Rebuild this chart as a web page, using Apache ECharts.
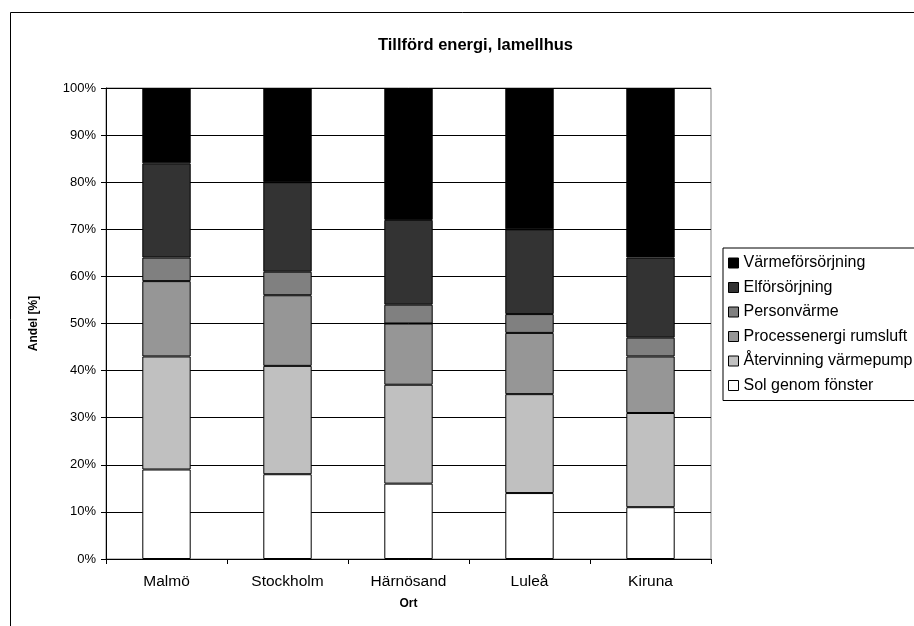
<!DOCTYPE html>
<html>
<head>
<meta charset="utf-8">
<script src="https://cdn.jsdelivr.net/npm/echarts@6/dist/echarts.min.js"></script>
<style>
  html, body { margin: 0; padding: 0; background: #ffffff; }
  #chart { width: 914px; height: 626px; }
</style>
</head>
<body>
<div id="chart"></div>
<script>
// Places (categories on the x axis)
const orter = ['Malmö', 'Stockholm', 'Härnösand', 'Luleå', 'Kiruna'];

// Share of supplied energy per source, in percent (stacked bottom to top)
const solGenomFonster = [19, 18, 16, 14, 11];
const atervinningVarmepump = [24, 23, 21, 21, 20];
const processenergiRumsluft = [16, 15, 13, 13, 12];
const personvarme = [5, 5, 4, 4, 4];
const elforsorjning = [20, 19, 18, 18, 17];
const varmeforsorjning = [16, 20, 28, 30, 36];

const yTicks = [0, 10, 20, 30, 40, 50, 60, 70, 80, 90, 100];

const seriesDefs = [
  { name: 'Sol genom fönster', data: solGenomFonster, color: '#ffffff' },
  { name: 'Återvinning värmepump', data: atervinningVarmepump, color: '#c0c0c0' },
  { name: 'Processenergi rumsluft', data: processenergiRumsluft, color: '#969696' },
  { name: 'Personvärme', data: personvarme, color: '#808080' },
  { name: 'Elförsörjning', data: elforsorjning, color: '#333333' },
  { name: 'Värmeförsörjning', data: varmeforsorjning, color: '#000000' }
];

const font = 'Liberation Sans, Arial, sans-serif';
const chart = echarts.init(document.getElementById('chart'), null, { renderer: 'canvas' });

chart.setOption({
  animation: false,
  backgroundColor: '#ffffff',
  title: {
    text: 'Tillförd energi, lamellhus',
    left: 373,
    top: 32,
    textStyle: { fontFamily: font, fontSize: 16.5, fontWeight: 'bold', color: '#000' }
  },
  graphic: [{
    type: 'rect',
    left: 8, top: 10,
    shape: { width: 1000, height: 1000 },
    style: { fill: 'none', stroke: '#000', lineWidth: 1 },
    silent: true
  }],
  legend: {
    orient: 'vertical',
    left: 723,
    top: 248,
    padding: [7, 40, 7, 5],
    itemGap: 8.5,
    itemWidth: 10,
    itemHeight: 10,
    borderColor: '#000',
    borderWidth: 1,
    backgroundColor: '#fff',
    icon: 'rect',
    itemStyle: { borderColor: '#000', borderWidth: 1 },
    textStyle: { fontFamily: font, fontSize: 16, color: '#000', lineHeight: 16 },
    data: seriesDefs.map(s => s.name).reverse()
  },
  grid: {
    left: 106, top: 88, right: 203, bottom: 67,
    show: true, borderColor: '#808080', borderWidth: 1, backgroundColor: '#fff'
  },
  xAxis: {
    type: 'category',
    data: orter,
    name: 'Ort',
    nameLocation: 'middle',
    nameGap: 39,
    nameTextStyle: { fontFamily: font, fontSize: 12, fontWeight: 'bold', color: '#000' },
    axisLine: { lineStyle: { color: '#000', width: 1 } },
    axisTick: { show: true, length: 5, lineStyle: { color: '#000' } },
    axisLabel: { fontFamily: font, fontSize: 15.5, color: '#000', margin: 15 },
    splitLine: { show: false }
  },
  yAxis: {
    type: 'value',
    min: yTicks[0],
    max: yTicks[yTicks.length - 1],
    interval: 10,
    name: 'Andel [%]',
    nameLocation: 'middle',
    nameGap: 66,
    nameTextStyle: { fontFamily: font, fontSize: 12, fontWeight: 'bold', color: '#000' },
    axisLine: { show: true, lineStyle: { color: '#000', width: 1 } },
    axisTick: { show: true, length: 5, lineStyle: { color: '#000' } },
    axisLabel: { fontFamily: font, fontSize: 13, color: '#000', margin: 10, formatter: '{value}%' },
    splitLine: { show: true, lineStyle: { color: '#000', width: 1 } }
  },
  series: seriesDefs.map(s => ({
    name: s.name,
    type: 'bar',
    stack: 'total',
    barWidth: '40%',
    data: s.data,
    itemStyle: { color: s.color, borderColor: '#000', borderWidth: 1 },
    emphasis: { disabled: true }
  }))
});
</script>
</body>
</html>
